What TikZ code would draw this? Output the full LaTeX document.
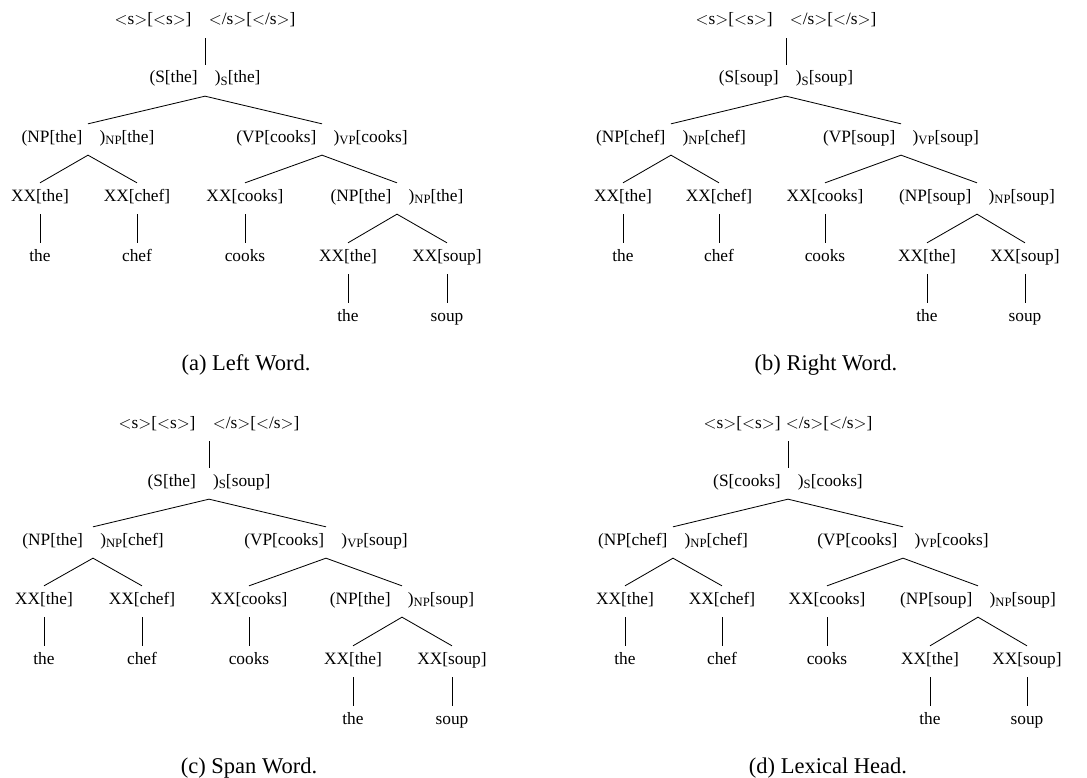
\documentclass[tikz,border=0pt]{standalone}
\usepackage{fontspec}
\setmainfont{Liberation Serif}
\newcommand{\catsub}[1]{\raisebox{-0.35ex}{\fontsize{7.6}{8}\selectfont #1}}
\newcommand{\spanlab}[3]{(#1[#2]\quad)\catsub{#1}[#3]}
\newcommand{\tagl}{\ensuremath{<}}
\newcommand{\tagr}{\ensuremath{>}}
\newcommand{\bndlab}[1]{\tagl s\tagr[\tagl s\tagr]#1\tagl/s\tagr[\tagl/s\tagr]}
\tikzset{
  lab/.style={anchor=base, inner xsep=0pt, inner ysep=3.4pt,
    text height=7.3pt, text depth=4.3pt},
  caplab/.style={anchor=base, font=\fontsize{13.5}{16}\selectfont},
  edge/.style={line width=0.5pt}
}
\begin{document}
\begin{tikzpicture}[x=0.6pt, y=-0.6pt, font=\fontsize{10.4}{12.5}\selectfont]
  \useasboundingbox (0,0) rectangle (1087,778);

  % ---------- (a) Left Word ----------
  \node[lab] (aTop) at (205,25) {\bndlab{\quad}};
  \node[lab] (aS) at (205,83) {\spanlab{S}{the}{the}};
  \node[lab] (aNP) at (88,142) {\spanlab{NP}{the}{the}};
  \node[lab] (aVP) at (322,142) {\spanlab{VP}{cooks}{cooks}};
  \node[lab] (aX1) at (40,201) {XX[the]};
  \node[lab] (aX2) at (137,201) {XX[chef]};
  \node[lab] (aX3) at (245,201) {XX[cooks]};
  \node[lab] (aNPb) at (397,201) {\spanlab{NP}{the}{the}};
  \node[lab] (aW1) at (40,261) {the};
  \node[lab] (aW2) at (137,261) {chef};
  \node[lab] (aW3) at (245,261) {cooks};
  \node[lab] (aX4) at (348,261) {XX[the]};
  \node[lab] (aX5) at (447,261) {XX[soup]};
  \node[lab] (aW4) at (348,321) {the};
  \node[lab] (aW5) at (447,321) {soup};
  \node[caplab] (aCap) at (246,370) {(a) Left Word.};
  \draw[edge] (aTop.south) -- (aS.north);
  \draw[edge] (aNP.north) -- (aS.south) -- (aVP.north);
  \draw[edge] (aX1.north) -- (aNP.south) -- (aX2.north);
  \draw[edge] (aX3.north) -- (aVP.south) -- (aNPb.north);
  \draw[edge] (aX4.north) -- (aNPb.south) -- (aX5.north);
  \draw[edge] (aX1.south) -- (aW1.north);
  \draw[edge] (aX2.south) -- (aW2.north);
  \draw[edge] (aX3.south) -- (aW3.north);
  \draw[edge] (aX4.south) -- (aW4.north);
  \draw[edge] (aX5.south) -- (aW5.north);

  % ---------- (b) Right Word ----------
  \node[lab] (bTop) at (786,25) {\bndlab{\quad}};
  \node[lab] (bS) at (786,83) {\spanlab{S}{soup}{soup}};
  \node[lab] (bNP) at (671,142) {\spanlab{NP}{chef}{chef}};
  \node[lab] (bVP) at (901,142) {\spanlab{VP}{soup}{soup}};
  \node[lab] (bX1) at (623,201) {XX[the]};
  \node[lab] (bX2) at (719,201) {XX[chef]};
  \node[lab] (bX3) at (825,201) {XX[cooks]};
  \node[lab] (bNPb) at (977,201) {\spanlab{NP}{soup}{soup}};
  \node[lab] (bW1) at (623,261) {the};
  \node[lab] (bW2) at (719,261) {chef};
  \node[lab] (bW3) at (825,261) {cooks};
  \node[lab] (bX4) at (927,261) {XX[the]};
  \node[lab] (bX5) at (1025,261) {XX[soup]};
  \node[lab] (bW4) at (927,321) {the};
  \node[lab] (bW5) at (1025,321) {soup};
  \node[caplab] (bCap) at (826,370) {(b) Right Word.};
  \draw[edge] (bTop.south) -- (bS.north);
  \draw[edge] (bNP.north) -- (bS.south) -- (bVP.north);
  \draw[edge] (bX1.north) -- (bNP.south) -- (bX2.north);
  \draw[edge] (bX3.north) -- (bVP.south) -- (bNPb.north);
  \draw[edge] (bX4.north) -- (bNPb.south) -- (bX5.north);
  \draw[edge] (bX1.south) -- (bW1.north);
  \draw[edge] (bX2.south) -- (bW2.north);
  \draw[edge] (bX3.south) -- (bW3.north);
  \draw[edge] (bX4.south) -- (bW4.north);
  \draw[edge] (bX5.south) -- (bW5.north);

  \begin{scope}[shift={(0,403)}]
    % ---------- (c) Span Word ----------
    \node[lab] (cTop) at (209,25) {\bndlab{\quad}};
    \node[lab] (cS) at (209,83) {\spanlab{S}{the}{soup}};
    \node[lab] (cNP) at (93,142) {\spanlab{NP}{the}{chef}};
    \node[lab] (cVP) at (326,142) {\spanlab{VP}{cooks}{soup}};
    \node[lab] (cX1) at (44,201) {XX[the]};
    \node[lab] (cX2) at (142,201) {XX[chef]};
    \node[lab] (cX3) at (249,201) {XX[cooks]};
    \node[lab] (cNPb) at (402,201) {\spanlab{NP}{the}{soup}};
    \node[lab] (cW1) at (44,261) {the};
    \node[lab] (cW2) at (142,261) {chef};
    \node[lab] (cW3) at (249,261) {cooks};
    \node[lab] (cX4) at (353,261) {XX[the]};
    \node[lab] (cX5) at (452,261) {XX[soup]};
    \node[lab] (cW4) at (353,321) {the};
    \node[lab] (cW5) at (452,321) {soup};
    \node[caplab] (cCap) at (249,370) {(c) Span Word.};
    \draw[edge] (cTop.south) -- (cS.north);
    \draw[edge] (cNP.north) -- (cS.south) -- (cVP.north);
    \draw[edge] (cX1.north) -- (cNP.south) -- (cX2.north);
    \draw[edge] (cX3.north) -- (cVP.south) -- (cNPb.north);
    \draw[edge] (cX4.north) -- (cNPb.south) -- (cX5.north);
    \draw[edge] (cX1.south) -- (cW1.north);
    \draw[edge] (cX2.south) -- (cW2.north);
    \draw[edge] (cX3.south) -- (cW3.north);
    \draw[edge] (cX4.south) -- (cW4.north);
    \draw[edge] (cX5.south) -- (cW5.north);

    % ---------- (d) Lexical Head ----------
    \node[lab] (dTop) at (788,25) {\bndlab{\hspace{0.3em}}};
    \node[lab] (dS) at (788,83) {\spanlab{S}{cooks}{cooks}};
    \node[lab] (dNP) at (673,142) {\spanlab{NP}{chef}{chef}};
    \node[lab] (dVP) at (903,142) {\spanlab{VP}{cooks}{cooks}};
    \node[lab] (dX1) at (625,201) {XX[the]};
    \node[lab] (dX2) at (722,201) {XX[chef]};
    \node[lab] (dX3) at (827,201) {XX[cooks]};
    \node[lab] (dNPb) at (978,201) {\spanlab{NP}{soup}{soup}};
    \node[lab] (dW1) at (625,261) {the};
    \node[lab] (dW2) at (722,261) {chef};
    \node[lab] (dW3) at (827,261) {cooks};
    \node[lab] (dX4) at (930,261) {XX[the]};
    \node[lab] (dX5) at (1027,261) {XX[soup]};
    \node[lab] (dW4) at (930,321) {the};
    \node[lab] (dW5) at (1027,321) {soup};
    \node[caplab] (dCap) at (828,370) {(d) Lexical Head.};
    \draw[edge] (dTop.south) -- (dS.north);
    \draw[edge] (dNP.north) -- (dS.south) -- (dVP.north);
    \draw[edge] (dX1.north) -- (dNP.south) -- (dX2.north);
    \draw[edge] (dX3.north) -- (dVP.south) -- (dNPb.north);
    \draw[edge] (dX4.north) -- (dNPb.south) -- (dX5.north);
    \draw[edge] (dX1.south) -- (dW1.north);
    \draw[edge] (dX2.south) -- (dW2.north);
    \draw[edge] (dX3.south) -- (dW3.north);
    \draw[edge] (dX4.south) -- (dW4.north);
    \draw[edge] (dX5.south) -- (dW5.north);
  \end{scope}
\end{tikzpicture}
\end{document}
